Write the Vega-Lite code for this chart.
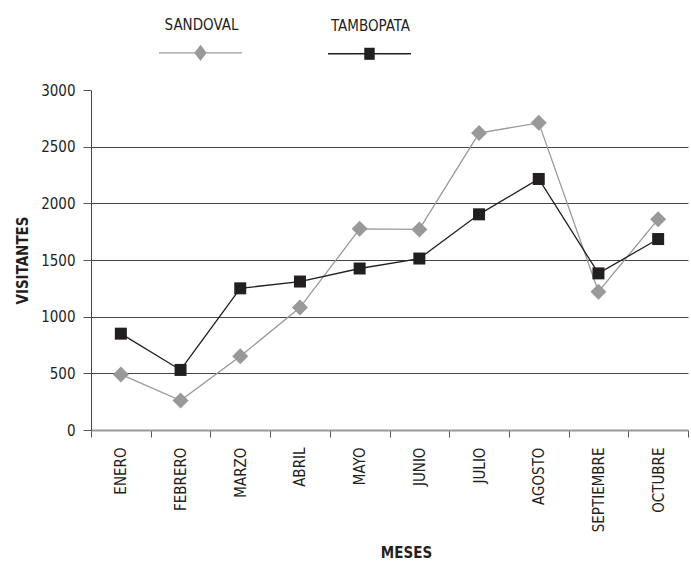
{
  "$schema": "https://vega.github.io/schema/vega-lite/v6.json",
  "width": 597,
  "height": 340,
  "autosize": "none",
  "padding": {"left": 91, "top": 90, "right": 3, "bottom": 133},
  "background": "white",
  "config": {
    "view": {"stroke": null},
    "font": "DejaVu Sans Condensed, sans-serif"
  },
  "data": {
    "values": [
      {"mes": "ENERO", "serie": "SANDOVAL", "valor": 490},
      {"mes": "FEBRERO", "serie": "SANDOVAL", "valor": 260},
      {"mes": "MARZO", "serie": "SANDOVAL", "valor": 650},
      {"mes": "ABRIL", "serie": "SANDOVAL", "valor": 1080},
      {"mes": "MAYO", "serie": "SANDOVAL", "valor": 1775},
      {"mes": "JUNIO", "serie": "SANDOVAL", "valor": 1770},
      {"mes": "JULIO", "serie": "SANDOVAL", "valor": 2620},
      {"mes": "AGOSTO", "serie": "SANDOVAL", "valor": 2710},
      {"mes": "SEPTIEMBRE", "serie": "SANDOVAL", "valor": 1220},
      {"mes": "OCTUBRE", "serie": "SANDOVAL", "valor": 1860},
      {"mes": "ENERO", "serie": "TAMBOPATA", "valor": 850},
      {"mes": "FEBRERO", "serie": "TAMBOPATA", "valor": 530},
      {"mes": "MARZO", "serie": "TAMBOPATA", "valor": 1250},
      {"mes": "ABRIL", "serie": "TAMBOPATA", "valor": 1310},
      {"mes": "MAYO", "serie": "TAMBOPATA", "valor": 1425},
      {"mes": "JUNIO", "serie": "TAMBOPATA", "valor": 1513},
      {"mes": "JULIO", "serie": "TAMBOPATA", "valor": 1903},
      {"mes": "AGOSTO", "serie": "TAMBOPATA", "valor": 2215},
      {"mes": "SEPTIEMBRE", "serie": "TAMBOPATA", "valor": 1382},
      {"mes": "OCTUBRE", "serie": "TAMBOPATA", "valor": 1685}
    ]
  },
  "encoding": {
    "x": {
      "field": "mes",
      "type": "nominal",
      "sort": null,
      "scale": {"type": "band", "paddingInner": 0, "paddingOuter": 0},
      "axis": {
        "title": "MESES",
        "titleFontSize": 15,
        "titleFontWeight": "bold",
        "titleColor": "#231f20",
        "titlePadding": 14,
        "titleX": 315,
        "labelAngle": 270,
        "labelAlign": "right",
        "labelBaseline": "middle",
        "labelFontSize": 15,
        "labelColor": "#231f20",
        "labelPadding": 10,
        "tickBand": "extent",
        "tickSize": 7,
        "tickColor": "#555555",
        "domainColor": "#999999",
        "domainWidth": 2,
        "grid": false
      }
    },
    "y": {
      "field": "valor",
      "type": "quantitative",
      "scale": {"domain": [0, 3000], "nice": false},
      "axis": {
        "title": "VISITANTES",
        "titleFontSize": 15,
        "titleFontWeight": "bold",
        "titleColor": "#231f20",
        "titlePadding": 10,
        "values": [0, 500, 1000, 1500, 2000, 2500, 3000],
        "format": "d",
        "labelFontSize": 15,
        "labelColor": "#231f20",
        "labelPadding": 8,
        "tickSize": 8,
        "tickColor": "#555555",
        "domainColor": "#444444",
        "grid": true,
        "gridColor": "#444444",
        "gridWidth": 1,
        "gridOpacity": {"condition": {"test": "datum.value == 3000 || datum.value == 0", "value": 0}, "value": 1}
      }
    }
  },
  "layer": [
    {
      "transform": [{"filter": "datum.serie == 'SANDOVAL'"}],
      "mark": {"type": "line", "strokeWidth": 1.3, "color": "#999999"},
      "encoding": {}
    },
    {
      "transform": [{"filter": "datum.serie == 'TAMBOPATA'"}],
      "mark": {"type": "line", "strokeWidth": 1.3, "color": "#231f20"},
      "encoding": {}
    },
    {
      "transform": [{"filter": "datum.serie == 'SANDOVAL'"}],
      "mark": {"type": "point", "shape": "diamond", "size": 256, "filled": true, "opacity": 1, "color": "#999999"}
    },
    {
      "transform": [{"filter": "datum.serie == 'TAMBOPATA'"}],
      "mark": {"type": "point", "shape": "square", "size": 144, "filled": true, "opacity": 1, "color": "#231f20"}
    },
    {
      "transform": [{"filter": "false"}],
      "mark": {"type": "point", "filled": true, "opacity": 1, "size": 6889, "strokeWidth": 1.3},
      "encoding": {
        "shape": {
          "field": "serie",
          "type": "nominal",
          "scale": {
            "domain": ["SANDOVAL", "TAMBOPATA"],
            "range": [
              "M-1,0.675H-0.13L0,0.505L0.13,0.675H1M0.13,0.675L0,0.845L-0.13,0.675Z",
              "M-1,0.675H-0.11V0.545H0.11V0.675H1M0.11,0.675V0.805H-0.11V0.675Z"
            ]
          },
          "legend": {
            "orient": "none",
            "legendX": 67,
            "legendY": -108,
            "direction": "horizontal",
            "title": null,
            "symbolSize": 6889,
            "symbolStrokeWidth": 1.3,
            "labelAlign": "center",
            "labelBaseline": "middle",
            "labelOffset": -41.5,
            "labelFontSize": 15,
            "labelColor": "#231f20",
            "columnPadding": 80
          }
        },
        "color": {
          "field": "serie",
          "type": "nominal",
          "scale": {"domain": ["SANDOVAL", "TAMBOPATA"], "range": ["#999999", "#231f20"]},
          "legend": {
            "orient": "none",
            "legendX": 67,
            "legendY": -108,
            "direction": "horizontal",
            "title": null,
            "symbolSize": 6889,
            "symbolStrokeWidth": 1.3,
            "labelAlign": "center",
            "labelBaseline": "middle",
            "labelOffset": -41.5,
            "labelFontSize": 15,
            "labelColor": "#231f20",
            "columnPadding": 80
          }
        },
        "stroke": {
          "field": "serie",
          "type": "nominal",
          "scale": {"domain": ["SANDOVAL", "TAMBOPATA"], "range": ["#999999", "#231f20"]},
          "legend": {
            "orient": "none",
            "legendX": 67,
            "legendY": -108,
            "direction": "horizontal",
            "title": null,
            "symbolSize": 6889,
            "symbolStrokeWidth": 1.3,
            "labelAlign": "center",
            "labelBaseline": "middle",
            "labelOffset": -41.5,
            "labelFontSize": 15,
            "labelColor": "#231f20",
            "columnPadding": 80
          }
        }
      }
    }
  ]
}
